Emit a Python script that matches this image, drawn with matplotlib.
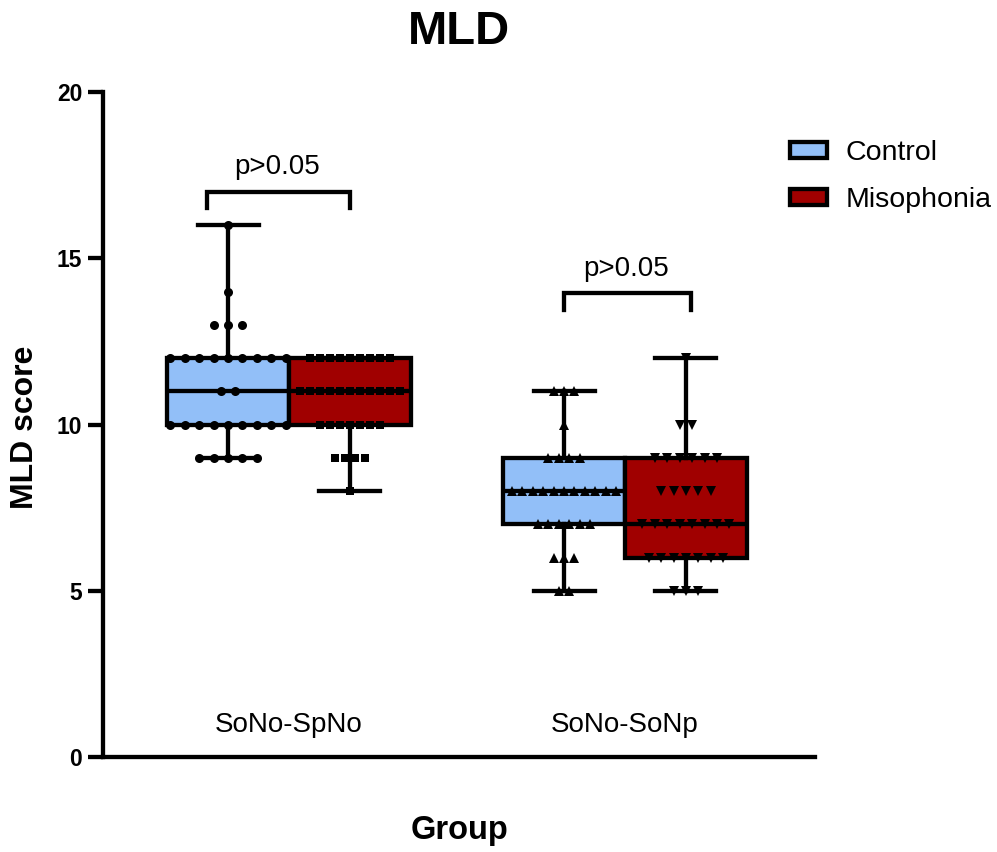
import numpy as np
import matplotlib
matplotlib.use("Agg")
import matplotlib.pyplot as plt
from matplotlib.patches import Patch

plt.rcParams['font.family'] = ['Liberation Sans', 'DejaVu Sans']

# ---------------- data ----------------
groups = ["SoNo-SpNo", "SoNo-SoNp"]
series = ["Control", "Misophonia"]

# score value -> count of subjects
ctrl_g1_vals = [9, 10, 11, 12, 13, 14, 16]
ctrl_g1_cnts = [5, 9, 2, 9, 3, 1, 1]
miso_g1_vals = [8, 9, 10, 11, 12]
miso_g1_cnts = [1, 4, 7, 11, 9]
ctrl_g2_vals = [5, 6, 7, 8, 9, 10, 11]
ctrl_g2_cnts = [2, 3, 6, 11, 4, 1, 3]
miso_g2_vals = [5, 6, 7, 8, 9, 10, 12]
miso_g2_cnts = [3, 7, 8, 5, 6, 2, 1]

p_labels = ["p>0.05", "p>0.05"]

colors = ["#92BFF8", "#A00000"]

# ---------------- figure ----------------
W, H = 997, 852
fig = plt.figure(figsize=(W / 100, H / 100), dpi=100)
ax = fig.add_axes([103 / W, 1 - 757 / H, (815 - 103) / W, (757 - 92) / H])

LW = 3.1
ax.set_xlim(-0.5536, 1.5655)
ax.set_ylim(0, 20)

datasets = [
    (ctrl_g1_vals, ctrl_g1_cnts, 0, 0, "o", 0.043, 6.5),
    (miso_g1_vals, miso_g1_cnts, 0, 1, "s", 0.030, 5.8),
    (ctrl_g2_vals, ctrl_g2_cnts, 1, 0, "^", 0.031, 7.5),
    (miso_g2_vals, miso_g2_cnts, 1, 1, "v", 0.037, 7.5),
]
offset = 0.1815
bw = 0.363

for vals, cnts, g, s, mk, sp, ms in datasets:
    data = np.repeat(np.array(vals, float), cnts)
    q1, med, q3 = np.percentile(data, [25, 50, 75], method="weibull")
    pos = g + (-offset if s == 0 else offset)
    stats = [dict(med=med, q1=q1, q3=q3, whislo=data.min(), whishi=data.max(), fliers=[])]
    ax.bxp(stats, positions=[pos], widths=bw, patch_artist=True, showfliers=False,
           boxprops=dict(facecolor=colors[s], edgecolor="black", linewidth=LW),
           medianprops=dict(color="black", linewidth=LW),
           whiskerprops=dict(color="black", linewidth=LW),
           capprops=dict(color="black", linewidth=LW),
           capwidths=bw / 2, manage_ticks=False, zorder=2)
    # scatter points, spread horizontally around box center
    for v, c in zip(vals, cnts):
        xs = pos + (np.arange(c) - (c - 1) / 2) * sp
        ax.plot(xs, [v] * c, linestyle="none", marker=mk, color="black",
                markersize=ms, markeredgewidth=0, zorder=4, clip_on=False)

# significance brackets
brackets = [(-0.243, 0.183, 17.0, 16.5), (0.818, 1.196, 13.95, 13.45)]
for (x0, x1, ytop, ybot), lab in zip(brackets, p_labels):
    ax.plot([x0, x0, x1, x1], [ybot, ytop, ytop, ybot], color="black",
            linewidth=LW, solid_joinstyle="miter", zorder=3)
    ax.text((x0 + x1) / 2 - 0.005, ytop + 0.35, lab, ha="center", va="bottom",
            fontsize=20)

# group labels inside plot
for i, g in enumerate(groups):
    ax.text(i, 0.95, g, ha="center", va="center", fontsize=20)

# axes styling
for sp_name in ["top", "right"]:
    ax.spines[sp_name].set_visible(False)
for sp_name in ["left", "bottom"]:
    ax.spines[sp_name].set_linewidth(LW)
    ax.spines[sp_name].set_capstyle("projecting")
ax.set_xticks([])
ax.set_yticks([0, 5, 10, 15, 20])
ax.tick_params(axis="y", length=11, width=LW, labelsize=16.5, pad=4)
for t in ax.get_yticklabels():
    t.set_fontweight("bold")

fig.text(459 / W, 1 - 32 / H, "MLD", ha="center", va="center",
         fontsize=34, fontweight="bold")
fig.text(459 / W, 1 - 830 / H, "Group", ha="center", va="center",
         fontsize=23.5, fontweight="bold")
fig.text(25 / W, 1 - 427 / H, "MLD score", ha="center", va="center",
         rotation=90, fontsize=23, fontweight="bold")

handles = [Patch(facecolor=colors[i], edgecolor="black", linewidth=LW, label=series[i])
           for i in range(2)]
fig.legend(handles=handles, loc="upper left", bbox_to_anchor=(790 / W, 1 - 140 / H),
           frameon=False, fontsize=20.5, handlelength=1.3, handleheight=0.5,
           handletextpad=0.65, labelspacing=0.75, borderaxespad=0, borderpad=0)

fig.savefig("out.png", dpi=100)
